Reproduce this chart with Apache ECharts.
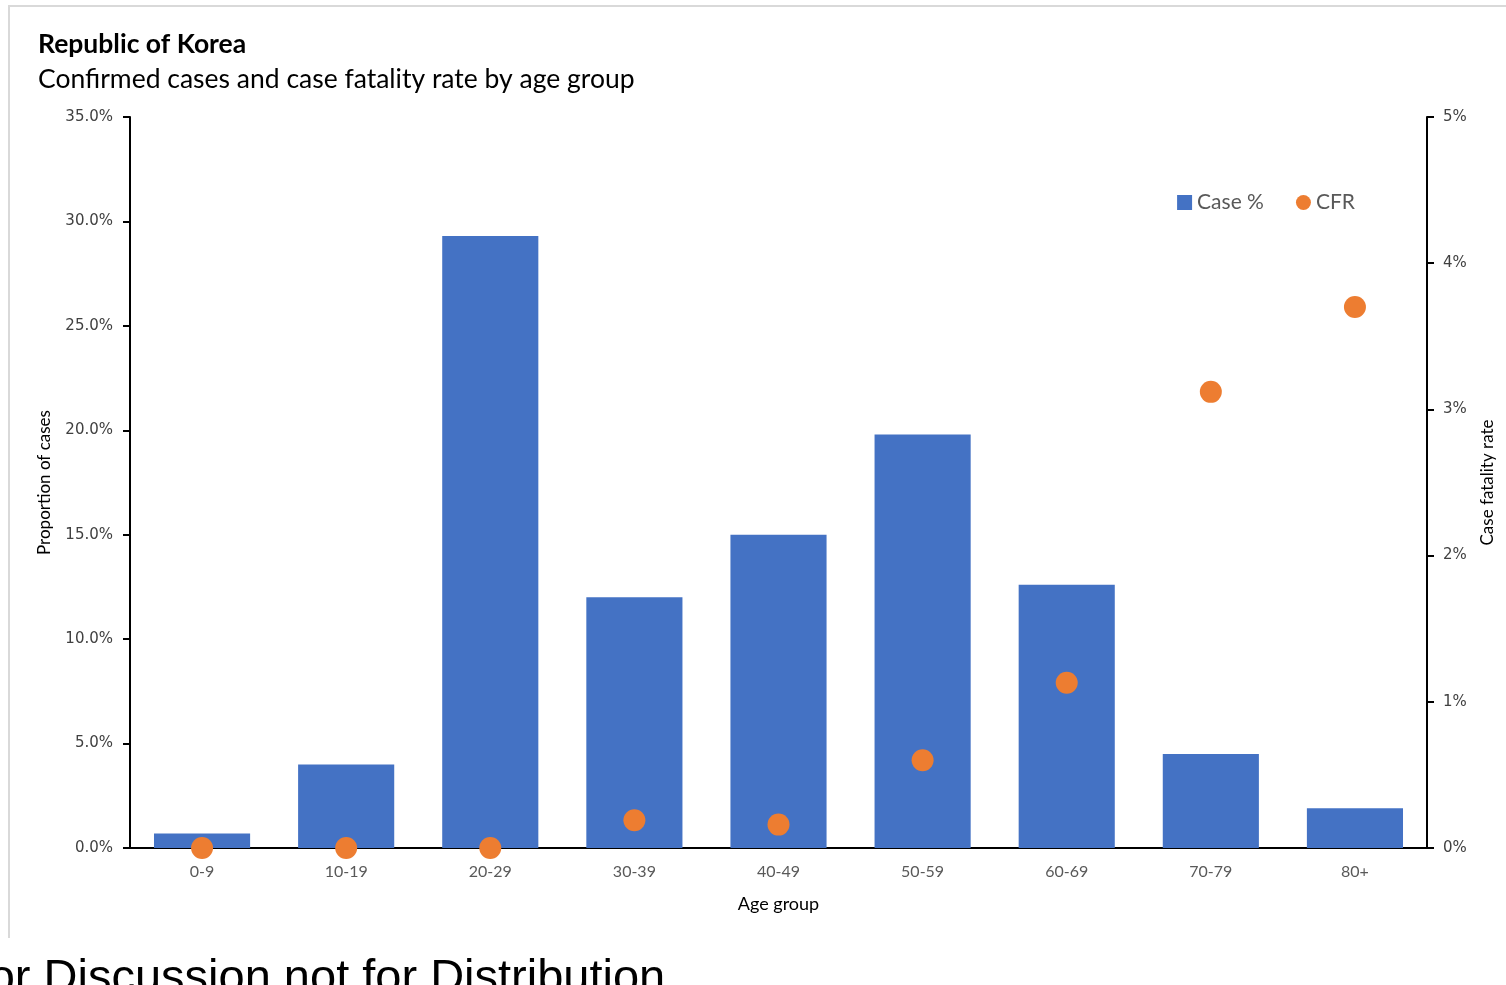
<!DOCTYPE html>
<html>
<head>
<meta charset="utf-8">
<script src="https://cdn.jsdelivr.net/npm/echarts@6/dist/echarts.min.js"></script>
<style>
html,body{margin:0;padding:0;background:#fff;overflow:hidden;}
#frame{position:absolute;left:8px;top:5px;width:1520px;height:933px;border-left:2px solid #d9d9d9;border-top:2px solid #d9d9d9;box-sizing:border-box;}
#chart{position:absolute;left:0;top:0;width:1506px;height:985px;}
</style>
</head>
<body>
<div id="frame"></div>
<div id="chart"></div>
<script>
const categories = ['0-9','10-19','20-29','30-39','40-49','50-59','60-69','70-79','80+'];
const casePct = [0.7, 4.0, 29.3, 12.0, 15.0, 19.8, 12.6, 4.5, 1.9];
const cfr = [0, 0, 0, 0.19, 0.16, 0.60, 1.13, 3.12, 3.70];
const leftTicks = {min: 0, max: 35, interval: 5};
const rightTicks = {min: 0, max: 5, interval: 1};

const chart = echarts.init(document.getElementById('chart'), null, {renderer: 'canvas'});
const tickFont = {fontFamily: 'DejaVu Sans', fontSize: 15, color: '#404040'};
chart.setOption({
  backgroundColor: 'transparent',
  animation: false,
  title: [
    {text: 'Republic of Korea', left: 33, top: 26, textStyle: {fontFamily: 'Lato', fontWeight: 'bold', fontSize: 26.5, color: '#000'}},
    {text: 'Confirmed cases and case fatality rate by age group', left: 33, top: 61, textStyle: {fontFamily: 'Lato', fontWeight: 'normal', fontSize: 26.5, color: '#000'}}
  ],
  legend: {
    right: 146, top: 187,
    itemGap: 32,
    itemWidth: 15, itemHeight: 15,
    textStyle: {fontFamily: 'Lato', fontSize: 21, color: '#595959'},
    data: [
      {name: 'Case %', icon: 'rect'},
      {name: 'CFR', icon: 'circle'}
    ]
  },
  grid: {left: 130, right: 79, top: 117, bottom: 137, containLabel: false},
  xAxis: {
    type: 'category', data: categories,
    name: 'Age group', nameLocation: 'middle', nameGap: 47,
    nameTextStyle: {fontFamily: 'Lato', fontSize: 18, color: '#000'},
    axisLine: {lineStyle: {color: '#000', width: 2}},
    axisTick: {show: false},
    axisLabel: {fontFamily: 'Lato', fontSize: 16, color: '#595959', margin: 16}
  },
  yAxis: [
    {
      type: 'value', min: leftTicks.min, max: leftTicks.max, interval: leftTicks.interval,
      name: 'Proportion of cases', nameLocation: 'middle', nameRotate: 90, nameGap: 77,
      nameTextStyle: {fontFamily: 'Lato', fontSize: 17, color: '#000'},
      axisLine: {show: true, lineStyle: {color: '#000', width: 2}},
      axisTick: {show: true, length: 7, lineStyle: {color: '#000', width: 2}},
      splitLine: {show: false},
      axisLabel: Object.assign({margin: 17, formatter: v => v.toFixed(1) + '%'}, tickFont)
    },
    {
      type: 'value', min: rightTicks.min, max: rightTicks.max, interval: rightTicks.interval,
      position: 'right',
      name: 'Case fatality rate', nameLocation: 'middle', nameRotate: 90, nameGap: 52,
      nameTextStyle: {fontFamily: 'Lato', fontSize: 17, color: '#000'},
      axisLine: {show: true, lineStyle: {color: '#000', width: 2}},
      axisTick: {show: true, length: 7, lineStyle: {color: '#000', width: 2}},
      splitLine: {show: false},
      axisLabel: Object.assign({margin: 16, formatter: v => v + '%'}, tickFont)
    }
  ],
  series: [
    {name: 'Case %', type: 'bar', data: casePct, yAxisIndex: 0, barWidth: '66.7%', itemStyle: {color: '#4472C4'}},
    {name: 'CFR', type: 'scatter', data: cfr, yAxisIndex: 1, symbolSize: 22, itemStyle: {color: '#ED7D31', opacity: 1}, z: 5}
  ],
  graphic: [
    {type: 'text', left: -40, top: 956, style: {text: 'For Discussion not for Distribution', fontFamily: 'Liberation Sans', fontSize: 47, fill: '#000'}}
  ]
});
</script>
</body>
</html>
